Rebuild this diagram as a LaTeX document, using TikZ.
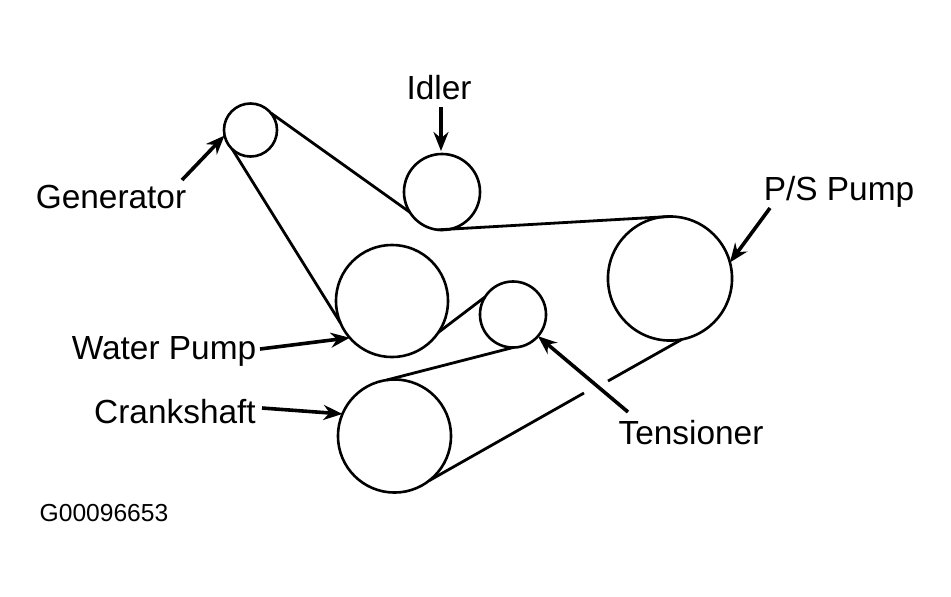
\documentclass[tikz,border=0pt]{standalone}
\usepackage{fontspec}
\setmainfont{Liberation Sans}
\usetikzlibrary{arrows.meta,calc,positioning}

\tikzset{
  pulley/.style={draw, circle, line width=0.26mm, inner sep=0pt, outer sep=0pt, minimum size=#1 cm},
  belt/.style={line width=0.28mm},
  callout/.style={-{Stealth[length=1.9mm,width=1.5mm]}, line width=0.36mm},
  partname/.style={font=\fontsize{9.5}{11}\selectfont, inner sep=0pt}
}

\begin{document}
\begin{tikzpicture}[x=0.01cm, y=-0.01cm]

  \useasboundingbox (0,0) rectangle (951,596);

  % Pulleys
  \node[pulley=0.53] (generator) at (250.5,130) {};
  \node[pulley=0.76] (idler) at (442,192) {};
  \node[pulley=1.12] (waterpump) at (392,301) {};
  \node[pulley=0.66] (tensioner) at (513,314.5) {};
  \node[pulley=1.24] (pspump) at (670,278.5) {};
  \node[pulley=1.13] (crankshaft) at (394.5,436) {};

  % Belt runs
  \draw[belt] (generator.40) -- (idler.212);
  \draw[belt] (generator.227) -- (waterpump.203);
  \draw[belt] (idler.264) -- (pspump.90);
  \draw[belt] (waterpump.-34) -- (tensioner.148);
  \draw[belt] (tensioner.-90) -- (crankshaft.98);
  \coordinate (gapA) at (608,381);
  \coordinate (gapB) at (584,393);
  \draw[belt] (pspump.-79) -- (gapA);
  \draw[belt] (gapB) -- (crankshaft.-52);

  % Labels
  \node[partname] (idlertext) at (439,88) {Idler};
  \node[partname] (generatortext) at (111,197) {Generator};
  \node[partname] (pstext) at (839,192) {P/S Pump};
  \node[partname] (wptext) at (164,351) {Water Pump};
  \node[partname] (cstext) at (175,412) {Crankshaft};
  \node[partname] (tensionertext) at (691,433) {Tensioner};
  \node[font=\fontsize{7}{9}\selectfont, inner sep=0pt] (figcode) at (104,513) {G00096653};

  % Arrows to pulleys
  \coordinate (idlerstart) at (441,107);
  \draw[callout] (idlerstart) -- (441,151);
  \coordinate (genstart) at (182,180);
  \draw[callout] (genstart) -- (generator.192);
  \coordinate (psstart) at (770,208);
  \draw[callout] (psstart) -- (pspump.15);
  \coordinate (wpstart) at (260,349);
  \draw[callout] (wpstart) -- (waterpump.-139);
  \coordinate (csstart) at (262,408);
  \draw[callout] (csstart) -- (crankshaft.157);
  \coordinate (tstart) at (628,412);
  \draw[callout] (tstart) -- (tensioner.-41);

\end{tikzpicture}
\end{document}
